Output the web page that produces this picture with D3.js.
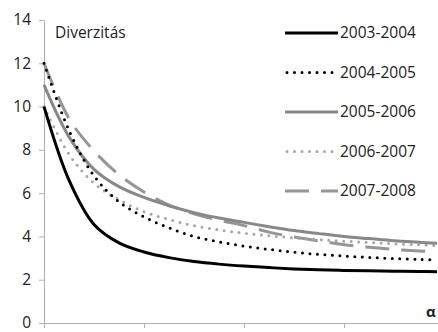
<!DOCTYPE html>
<html>
<head>
<meta charset="utf-8">
<script src="https://cdn.jsdelivr.net/npm/d3@7"></script>
<style>
  body { margin: 0; background: #fff; }
  text { font-family: "Open Sans", "Noto Sans", sans-serif; fill: #222; }
</style>
</head>
<body>
<svg id="chart" width="438" height="332"></svg>
<script>
// alpha values along the x axis
var alphas = [0, 0.25, 0.5, 0.75, 1, 1.25, 1.5, 1.75, 2, 2.25, 2.5, 2.75, 3, 3.25, 3.5, 3.75, 3.93];

var s2003 = [10.0, 6.6, 4.55, 3.7, 3.28, 3.02, 2.84, 2.72, 2.63, 2.56, 2.5, 2.46, 2.43, 2.41, 2.39, 2.38, 2.37];
var s2004 = [12.0, 8.9, 6.8, 5.6, 4.9, 4.4, 4.0, 3.75, 3.55, 3.4, 3.27, 3.17, 3.09, 3.03, 2.98, 2.94, 2.91];
var s2005 = [11.0, 8.6, 7.1, 6.3, 5.8, 5.42, 5.1, 4.85, 4.65, 4.45, 4.27, 4.13, 4.0, 3.9, 3.8, 3.73, 3.68];
var s2006 = [10.0, 7.8, 6.45, 5.7, 5.14, 4.78, 4.5, 4.3, 4.15, 4.03, 3.93, 3.85, 3.78, 3.72, 3.66, 3.61, 3.57];
var s2007 = [12.0, 9.45, 7.95, 6.85, 6.05, 5.45, 5.05, 4.75, 4.5, 4.2, 3.97, 3.79, 3.62, 3.5, 3.4, 3.33, 3.29];

var seriesNames = ["2003-2004", "2004-2005", "2005-2006", "2006-2007", "2007-2008"];
var yTicks = [0, 2, 4, 6, 8, 10, 12, 14];
var xTicks = [0, 1, 2, 3];

var styles = [
  {color: "#000000", width: 3, dash: null, cap: "butt"},
  {color: "#000000", width: 3, dash: "0,7.5", cap: "round"},
  {color: "#888888", width: 3, dash: null, cap: "butt"},
  {color: "#a6a6a6", width: 3, dash: "0,7.5", cap: "round"},
  {color: "#969696", width: 3, dash: "24,12", cap: "butt"}
];

var svg = d3.select("#chart"),
    width = +svg.attr("width"),
    height = +svg.attr("height");

var x = d3.scaleLinear().domain([0, 3.94]).range([44, 438]);
var y = d3.scaleLinear().domain([0, 14]).range([323, 20]);

// y axis
var yAxis = svg.append("g")
    .attr("transform", "translate(44,0)")
    .call(d3.axisLeft(y).tickValues(yTicks).tickSize(5).tickSizeOuter(0).tickPadding(8));
yAxis.select(".domain").attr("stroke", "#b0b0b0");
yAxis.selectAll(".tick line").attr("stroke", "#b0b0b0");
yAxis.selectAll(".tick text")
    .style("font-size", "15.5px")
    .attr("fill", "#222");

// x axis, no labels
var xAxis = svg.append("g")
    .attr("transform", "translate(0,323)")
    .call(d3.axisBottom(x).tickValues(xTicks).tickFormat("").tickSize(5).tickSizeOuter(0));
xAxis.select(".domain").attr("stroke", "#b0b0b0");
xAxis.selectAll(".tick line").attr("stroke", "#b0b0b0");

var allSeries = [s2003, s2004, s2005, s2006, s2007];

var line = d3.line()
    .x(function (d, i) { return x(alphas[i]); })
    .y(function (d) { return y(d); })
    .curve(d3.curveCatmullRom.alpha(0.5));

// draw back to front so black lines sit on top
var order = [4, 3, 2, 1, 0];
svg.append("g")
    .selectAll("path")
    .data(order)
    .enter().append("path")
    .attr("d", function (k) { return line(allSeries[k]); })
    .attr("fill", "none")
    .attr("stroke", function (k) { return styles[k].color; })
    .attr("stroke-width", function (k) { return styles[k].width; })
    .attr("stroke-dasharray", function (k) { return styles[k].dash; })
    .attr("stroke-linecap", function (k) { return styles[k].cap; });

// legend
var legend = svg.append("g")
    .selectAll("g")
    .data(seriesNames)
    .enter().append("g")
    .attr("transform", function (d, i) { return "translate(285," + (33 + i * 39.5) + ")"; });

legend.append("line")
    .attr("x1", function (d, i) { return styles[i].cap === "round" ? 2 : 0; })
    .attr("x2", 53)
    .attr("stroke", function (d, i) { return styles[i].color; })
    .attr("stroke-width", function (d, i) { return styles[i].width; })
    .attr("stroke-dasharray", function (d, i) { return styles[i].dash; })
    .attr("stroke-linecap", function (d, i) { return styles[i].cap; });

legend.append("text")
    .attr("x", 55)
    .attr("dy", "0.35em")
    .style("font-size", "15.5px")
    .text(function (d) { return d; });

svg.append("text")
    .attr("x", 55)
    .attr("y", 38)
    .style("font-size", "15.5px")
    .text("Diverzitás");

svg.append("text")
    .attr("x", 426)
    .attr("y", 317)
    .style("font-size", "15px")
    .style("font-weight", "bold")
    .text("α");
</script>
</body>
</html>
